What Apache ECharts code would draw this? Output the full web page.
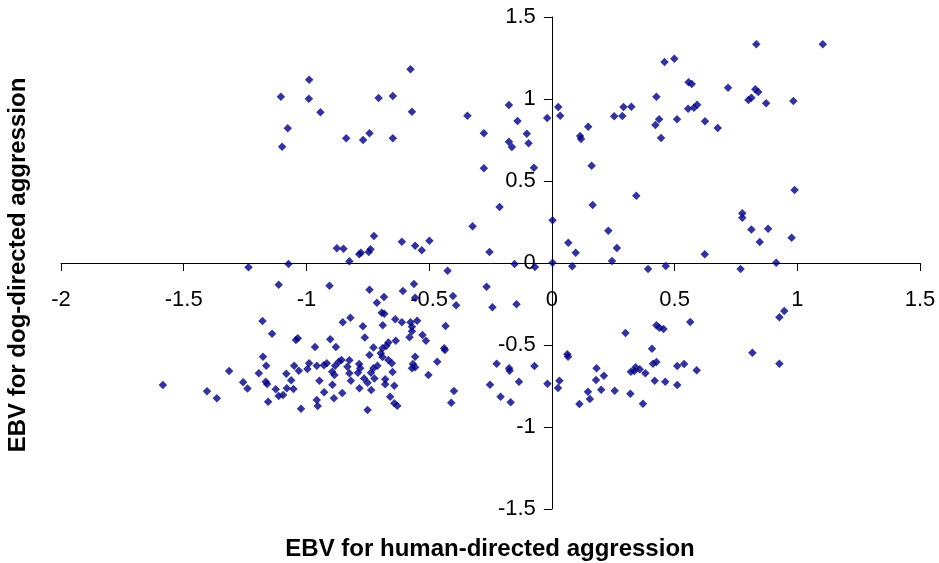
<!DOCTYPE html>
<html>
<head>
<meta charset="utf-8">
<title>EBV scatter</title>
<script src="https://cdn.jsdelivr.net/npm/echarts@6/dist/echarts.min.js"></script>
<style>
  html, body { margin: 0; padding: 0; background: #fff; }
  #chart { width: 939px; height: 563px; }
</style>
</head>
<body>
<div id="chart"></div>
<script>
// Estimated breeding values per dog: human-directed (x) and dog-directed (y) aggression
const humanEbv = [
  -1.104, -0.989, -0.990, -0.943, -1.076, -1.099, -0.838, -0.769, -0.743, -0.706,
  -0.648, -0.576, -0.570, -0.648, -0.344, -0.175, -0.140, -0.277, -0.102, -0.175,
  -0.163, -0.095, -0.019, 0.026, 0.034, -0.277, -0.073, -0.213, -0.323, -0.499,
  -0.530, -0.254, 0.003, 0.067, -0.425, -0.152, -0.069, 0.003, 0.148, 0.115,
  0.119, 0.254, 0.287, 0.292, 0.324, 0.426, 0.437, 0.422, 0.445, 0.459,
  0.499, 0.557, 0.570, 0.510, 0.555, 0.579, 0.592, 0.624, 0.833, 1.104,
  0.718, 0.829, 0.841, 0.801, 0.813, 0.873, 0.984, 0.676, 0.162, 0.166,
  0.344, 0.230, 0.097, 0.265, 0.245, 0.083, 0.392, 0.464, 0.623, 0.776,
  0.776, 0.813, 0.881, 0.847, 0.977, 0.989, 0.914, 0.769, -1.236, -1.073,
  -1.113, -1.179, -1.140, -1.043, -1.035, -1.177, -1.164, -1.315, -1.194, -1.166,
  -1.160, -1.258, -1.240, -1.050, -1.082, -1.062, -1.080, -1.053, -1.125, -1.113,
  -1.095, -1.156, -1.585, -1.405, -1.365, -0.876, -0.849, -0.825, -0.785, -0.778,
  -0.746, -0.739, -0.725, -0.906, -0.743, -0.713, -0.821, -0.852, -0.770, -0.762,
  -0.903, -0.880, -0.965, -0.727, -0.743, -1.031, -0.996, -0.989, -0.958, -0.929,
  -0.917, -0.883, -0.868, -0.857, -0.895, -0.886, -0.825, -0.833, -0.825, -0.819,
  -0.785, -0.781, -0.790, -0.765, -0.751, -0.737, -0.727, -0.711, -0.723, -0.947,
  -0.894, -0.928, -0.888, -0.854, -0.784, -0.736, -0.958, -0.954, -1.022, -0.751,
  -0.611, -0.557, -0.562, -0.607, -0.684, -0.557, -0.403, -0.390, -0.693, -0.683,
  -0.638, -0.611, -0.549, -0.576, -0.570, -0.570, -0.689, -0.433, -0.580, -0.527,
  -0.513, -0.636, -0.666, -0.675, -0.690, -0.697, -0.690, -0.666, -0.652, -0.649,
  -0.679, -0.679, -0.642, -0.557, -0.566, -0.557, -0.570, -0.503, -0.467, -0.439,
  -0.436, -0.659, -0.642, -0.630, -0.399, -0.410, -0.266, -0.242, -0.144, -0.225,
  -0.174, -0.172, -0.071, 0.063, 0.066, -0.252, -0.134, -0.018, 0.031, 0.025,
  -0.209, -0.168, 0.112, 0.300, 0.426, 0.438, 0.455, 0.564, 0.408, 0.182,
  0.212, 0.180, 0.147, 0.155, 0.201, 0.256, 0.320, 0.371, 0.322, 0.341,
  0.358, 0.336, 0.381, 0.412, 0.426, 0.419, 0.462, 0.511, 0.539, 0.511,
  0.590, 0.817, 0.927, 0.927, 0.947
];
const dogEbv = [
  1.014, 1.118, 1.002, 0.919, 0.821, 0.709, 0.760, 0.750, 0.791, 1.006,
  1.018, 1.181, 0.923, 0.760, 0.898, 0.963, 0.866, 0.791, 0.788, 0.740,
  0.707, 0.730, 0.884, 0.951, 0.898, 0.577, 0.581, 0.341, 0.224, 0.136,
  0.077, 0.067, 0.260, 0.124, -0.047, -0.006, -0.024, 0.002, 0.831, 0.774,
  0.756, 0.895, 0.896, 0.951, 0.953, 1.014, 0.876, 0.841, 0.762, 1.226,
  1.246, 1.102, 1.091, 0.876, 0.941, 0.947, 0.965, 0.864, 1.334, 1.334,
  1.069, 1.059, 1.043, 0.994, 1.008, 0.974, 0.988, 0.823, 0.593, 0.354,
  0.410, 0.197, 0.063, 0.091, 0.012, -0.020, -0.037, -0.018, 0.053, 0.303,
  0.276, 0.205, 0.209, 0.128, 0.154, 0.445, 0.002, -0.037, -0.026, -0.006,
  -0.132, -0.354, -0.431, -0.470, -0.459, -0.571, -0.626, -0.659, -0.673, -0.724,
  -0.738, -0.727, -0.766, -0.626, -0.675, -0.715, -0.764, -0.768, -0.770, -0.811,
  -0.805, -0.846, -0.744, -0.782, -0.825, 0.090, 0.087, 0.010, 0.053, 0.063,
  0.067, 0.084, 0.165, -0.138, -0.163, -0.242, -0.334, -0.362, -0.386, -0.455,
  -0.465, -0.512, -0.512, -0.516, -0.561, -0.657, -0.646, -0.612, -0.626, -0.624,
  -0.612, -0.626, -0.602, -0.591, -0.663, -0.683, -0.593, -0.632, -0.673, -0.718,
  -0.616, -0.642, -0.669, -0.705, -0.730, -0.669, -0.642, -0.626, -0.705, -0.718,
  -0.742, -0.788, -0.825, -0.793, -0.764, -0.774, -0.835, -0.872, -0.888, -0.896,
  0.130, 0.105, -0.128, -0.171, -0.207, -0.212, -0.201, -0.258, -0.303, -0.309,
  -0.343, -0.362, -0.352, -0.362, -0.388, -0.416, -0.380, -0.384, -0.453, -0.439,
  -0.474, -0.474, -0.484, -0.506, -0.520, -0.551, -0.573, -0.591, -0.612, -0.665,
  -0.709, -0.740, -0.748, -0.571, -0.616, -0.636, -0.642, -0.683, -0.602, -0.520,
  -0.530, -0.815, -0.855, -0.870, -0.780, -0.852, -0.145, -0.270, -0.252, -0.614,
  -0.642, -0.657, -0.628, -0.557, -0.571, -0.742, -0.724, -0.736, -0.718, -0.762,
  -0.815, -0.849, -0.860, -0.427, -0.380, -0.395, -0.402, -0.360, -0.523, -0.642,
  -0.687, -0.713, -0.785, -0.829, -0.773, -0.779, -0.797, -0.858, -0.663, -0.636,
  -0.648, -0.659, -0.673, -0.614, -0.604, -0.718, -0.724, -0.628, -0.616, -0.744,
  -0.654, -0.547, -0.614, -0.331, -0.293
];

const xRange = [-2, 1.5];
const yRange = [-1.5, 1.5];
const tickStep = 0.5;

const xTitle = 'EBV for human-directed aggression';
const yTitle = 'EBV for dog-directed aggression';

const points = humanEbv.map((x, i) => [x, dogEbv[i]]);

const FONT = '"Liberation Sans", Arial, sans-serif';
const W = 939, H = 563;
const grid = { left: 61, right: 19, top: 17, bottom: 54 };
const gridW = W - grid.left - grid.right;
const gridH = H - grid.top - grid.bottom;

// Axes cross at the origin: shift each axis (with its labels) from the grid edge to zero
const xAxisShift = -gridH * (0 - yRange[0]) / (yRange[1] - yRange[0]);
const yAxisShift = -gridW * (0 - xRange[0]) / (xRange[1] - xRange[0]);

const chart = echarts.init(document.getElementById('chart'), null, { renderer: 'canvas' });

chart.setOption({
  animation: false,
  backgroundColor: '#ffffff',
  grid: grid,
  xAxis: {
    type: 'value',
    min: xRange[0], max: xRange[1], interval: tickStep,
    position: 'bottom',
    offset: xAxisShift,
    axisLine: { onZero: false, lineStyle: { color: '#000', width: 1 } },
    axisTick: { show: true, length: 8, lineStyle: { color: '#000' } },
    axisLabel: { color: '#000', fontSize: 22, fontFamily: FONT, margin: 26 },
    splitLine: { show: false }
  },
  yAxis: {
    type: 'value',
    min: yRange[0], max: yRange[1], interval: tickStep,
    position: 'left',
    offset: yAxisShift,
    axisLine: { onZero: false, lineStyle: { color: '#000', width: 1 } },
    axisTick: { show: true, length: 8, lineStyle: { color: '#000' } },
    axisLabel: { color: '#000', fontSize: 22, fontFamily: FONT, margin: 16 },
    splitLine: { show: false }
  },
  series: [{
    type: 'scatter',
    data: points,
    symbol: 'diamond',
    symbolSize: 8.5,
    itemStyle: { color: '#000080' }
  }],
  graphic: [
    {
      type: 'text',
      x: 490, y: 549,
      style: {
        text: xTitle, fill: '#000',
        font: 'bold 24px ' + FONT,
        textAlign: 'center', textVerticalAlign: 'middle'
      }
    },
    {
      type: 'text',
      x: 18, y: 265,
      rotation: Math.PI / 2,
      style: {
        text: yTitle, fill: '#000',
        font: 'bold 24px ' + FONT,
        textAlign: 'center', textVerticalAlign: 'middle'
      }
    }
  ]
});
</script>
</body>
</html>
